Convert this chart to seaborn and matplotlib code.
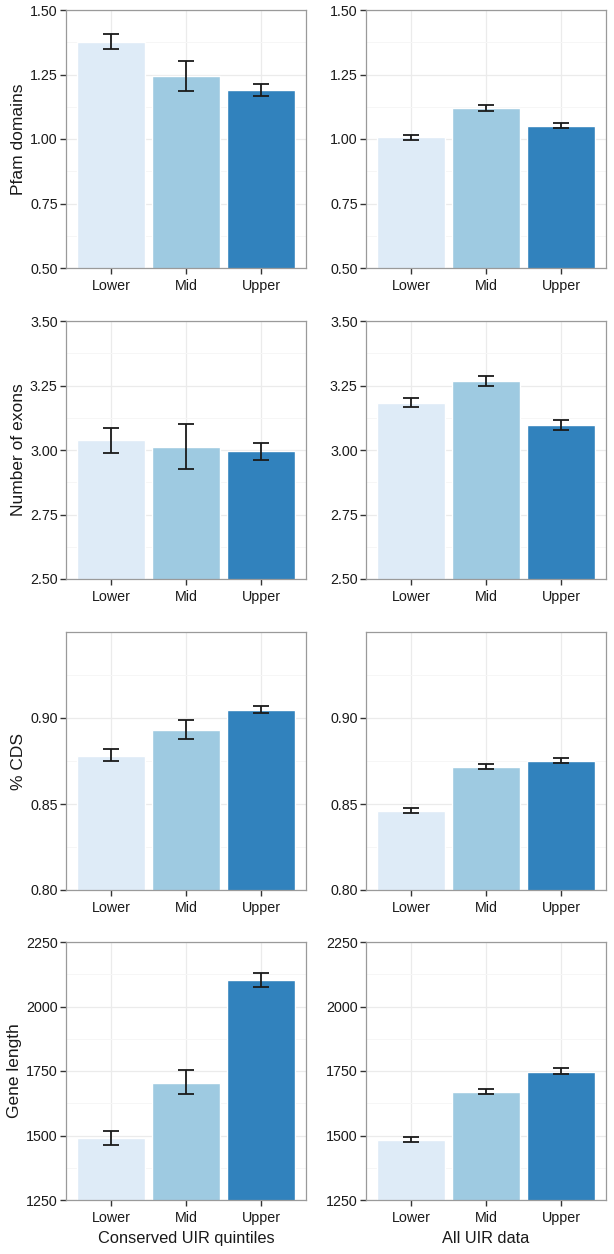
import numpy as np
import pandas as pd
import seaborn as sns
import matplotlib
matplotlib.use("Agg")
import matplotlib.pyplot as plt
from matplotlib.ticker import FixedLocator

# categories and colours
cats = ["Lower", "Mid", "Upper"]
colours = ["#deebf7", "#9ecae1", "#3182bd"]

# bar heights and error ranges (left = conserved, right = all)
pfam_cons = [1.375, 1.243, 1.189]
pfam_cons_lo = [1.349, 1.186, 1.165]
pfam_cons_hi = [1.406, 1.302, 1.213]
pfam_all = [1.006, 1.119, 1.050]
pfam_all_lo = [0.997, 1.110, 1.041]
pfam_all_hi = [1.014, 1.130, 1.061]

exon_cons = [3.038, 3.012, 2.995]
exon_cons_lo = [2.989, 2.926, 2.961]
exon_cons_hi = [3.087, 3.100, 3.029]
exon_all = [3.184, 3.266, 3.096]
exon_all_lo = [3.167, 3.248, 3.079]
exon_all_hi = [3.203, 3.285, 3.115]

cds_cons = [0.878, 0.893, 0.9048]
cds_cons_lo = [0.8751, 0.8876, 0.9027]
cds_cons_hi = [0.8817, 0.8986, 0.9070]
cds_all = [0.846, 0.8718, 0.8751]
cds_all_lo = [0.8448, 0.8703, 0.8737]
cds_all_hi = [0.8475, 0.8735, 0.8766]

len_cons = [1489, 1705, 2103]
len_cons_lo = [1464, 1659, 2076]
len_cons_hi = [1516, 1754, 2131]
len_all = [1484, 1668, 1748]
len_all_lo = [1475, 1659, 1738]
len_all_hi = [1494, 1680, 1761]

row_labels = ["Pfam domains", "Number of exons", "% CDS", "Gene length"]
col_titles = ["Conserved UIR quintiles", "All UIR data"]
row_limits = [(0.5, 1.5), (2.5, 3.5), (0.8, 0.95), (1250, 2250)]
row_ticks = [[0.5, 0.75, 1.0, 1.25, 1.5], [2.5, 2.75, 3.0, 3.25, 3.5],
             [0.80, 0.85, 0.90], [1250, 1500, 1750, 2000, 2250]]
row_fmt = ["{:.2f}", "{:.2f}", "{:.2f}", "{:.0f}"]

panels = [
    [(pfam_cons, pfam_cons_lo, pfam_cons_hi), (pfam_all, pfam_all_lo, pfam_all_hi)],
    [(exon_cons, exon_cons_lo, exon_cons_hi), (exon_all, exon_all_lo, exon_all_hi)],
    [(cds_cons, cds_cons_lo, cds_cons_hi), (cds_all, cds_all_lo, cds_all_hi)],
    [(len_cons, len_cons_lo, len_cons_hi), (len_all, len_all_lo, len_all_hi)],
]

sns.set_theme(style="white")
plt.rcParams['font.family'] = ['Liberation Sans', 'DejaVu Sans']

W, H = 614, 1254
fig = plt.figure(figsize=(W / 100, H / 100), dpi=100)

col_x = [66, 366]
row_y = [10, 321, 632, 942]
pw, ph = 240, 258

for r in range(4):
    for c in range(2):
        vals, lo, hi = panels[r][c]
        ax = fig.add_axes([col_x[c] / W, 1 - (row_y[r] + ph) / H, pw / W, ph / H])
        df = pd.DataFrame({"cat": cats, "val": vals})
        sns.barplot(data=df, x="cat", y="val", hue="cat", palette=colours,
                    legend=False, width=0.9, ax=ax, saturation=1)
        yerr = [np.array(vals) - np.array(lo), np.array(hi) - np.array(vals)]
        ax.errorbar(range(3), vals, yerr=yerr, fmt="none", ecolor="#1a1a1a",
                    elinewidth=1.3, capsize=5.5, capthick=1.3, zorder=5)

        ymin, ymax = row_limits[r]
        ticks = row_ticks[r]
        ax.set_ylim(ymin, ymax)
        ax.set_xlim(-0.6, 2.6)
        ax.yaxis.set_major_locator(FixedLocator(ticks))
        step = ticks[1] - ticks[0]
        minors = [t + step / 2 for t in ticks]
        ax.yaxis.set_minor_locator(FixedLocator([m for m in minors if m <= ymax + 1e-9]))
        ax.set_yticklabels([row_fmt[r].format(t) for t in ticks])

        ax.set_axisbelow(True)
        ax.grid(True, which="major", color="#ebebeb", linewidth=0.9)
        ax.grid(True, which="minor", axis="y", color="#f6f6f6", linewidth=0.7)
        for s in ax.spines.values():
            s.set_color("#9a9a9a")
            s.set_linewidth(0.9)
        ax.tick_params(axis="both", which="major", direction="out", length=4,
                       width=1, color="#333333", labelsize=10.3,
                       labelcolor="#1a1a1a", left=True, bottom=True)
        ax.tick_params(axis="y", which="major", pad=2)
        ax.tick_params(axis="x", which="major", pad=4)
        ax.tick_params(axis="y", which="minor", length=0)

        ax.set_ylabel(row_labels[r] if c == 0 else "", fontsize=12.5, color="#1a1a1a",
                      labelpad=3)
        ax.set_xlabel(col_titles[c] if r == 3 else "", fontsize=11.8, color="#1a1a1a",
                      labelpad=4)

fig.savefig("out.png", dpi=100)
